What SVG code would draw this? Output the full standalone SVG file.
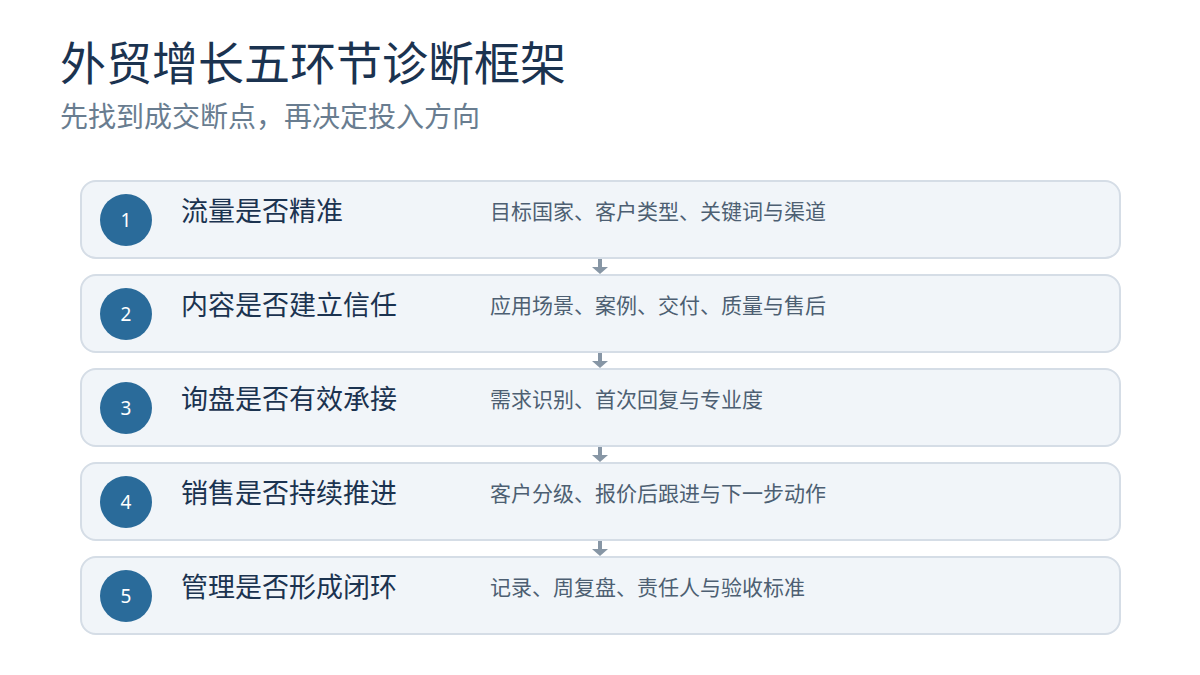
<svg xmlns="http://www.w3.org/2000/svg" width="1200" height="675" viewBox="0 0 1200 675">
<defs>
<style>
.card{fill:#f1f5f9;stroke:#d5dde6;stroke-width:2}
.num{fill:#2a6b9a}
.numt{fill:#ffffff;font-family:"Noto Sans","Liberation Sans",sans-serif;font-size:19px;text-anchor:middle}
.lab{fill:#1b3350;font-family:"Noto Sans CJK SC",sans-serif;font-size:27px}
.desc{fill:#4d5f72;font-family:"Noto Sans CJK SC",sans-serif;font-size:21px}
.conn{stroke:#8796a5;stroke-width:4;fill:none}
.head{fill:#8796a5}
</style>
</defs>
<rect width="1200" height="675" fill="#ffffff"/>
<text x="60" y="80" font-family="Noto Sans CJK SC,sans-serif" font-size="46" fill="#1b3350">外贸增长五环节诊断框架</text>
<text x="60" y="127" font-family="Noto Sans CJK SC,sans-serif" font-size="28" fill="#697d90">先找到成交断点，再决定投入方向</text>
<g id="connectors">
<g><line class="conn" x1="600" y1="259" x2="600" y2="268"/><path class="head" d="M592,267 L608,267 L600,274 z"/></g>
<g><line class="conn" x1="600" y1="353" x2="600" y2="362"/><path class="head" d="M592,361 L608,361 L600,368 z"/></g>
<g><line class="conn" x1="600" y1="447" x2="600" y2="456"/><path class="head" d="M592,455 L608,455 L600,462 z"/></g>
<g><line class="conn" x1="600" y1="541" x2="600" y2="550"/><path class="head" d="M592,549 L608,549 L600,556 z"/></g>
</g>
<g id="step1">
<rect class="card" x="81" y="181" width="1039" height="77" rx="15"/>
<circle class="num" cx="126" cy="220" r="26"/>
<text class="numt" x="126" y="227">1</text>
<text class="lab" x="181" y="221">流量是否精准</text>
<text class="desc" x="490" y="219">目标国家、客户类型、关键词与渠道</text>
</g>
<g id="step2">
<rect class="card" x="81" y="275" width="1039" height="77" rx="15"/>
<circle class="num" cx="126" cy="314" r="26"/>
<text class="numt" x="126" y="321">2</text>
<text class="lab" x="181" y="315">内容是否建立信任</text>
<text class="desc" x="490" y="313">应用场景、案例、交付、质量与售后</text>
</g>
<g id="step3">
<rect class="card" x="81" y="369" width="1039" height="77" rx="15"/>
<circle class="num" cx="126" cy="408" r="26"/>
<text class="numt" x="126" y="415">3</text>
<text class="lab" x="181" y="409">询盘是否有效承接</text>
<text class="desc" x="490" y="407">需求识别、首次回复与专业度</text>
</g>
<g id="step4">
<rect class="card" x="81" y="463" width="1039" height="77" rx="15"/>
<circle class="num" cx="126" cy="502" r="26"/>
<text class="numt" x="126" y="509">4</text>
<text class="lab" x="181" y="503">销售是否持续推进</text>
<text class="desc" x="490" y="501">客户分级、报价后跟进与下一步动作</text>
</g>
<g id="step5">
<rect class="card" x="81" y="557" width="1039" height="77" rx="15"/>
<circle class="num" cx="126" cy="596" r="26"/>
<text class="numt" x="126" y="603">5</text>
<text class="lab" x="181" y="597">管理是否形成闭环</text>
<text class="desc" x="490" y="595">记录、周复盘、责任人与验收标准</text>
</g>
</svg>
